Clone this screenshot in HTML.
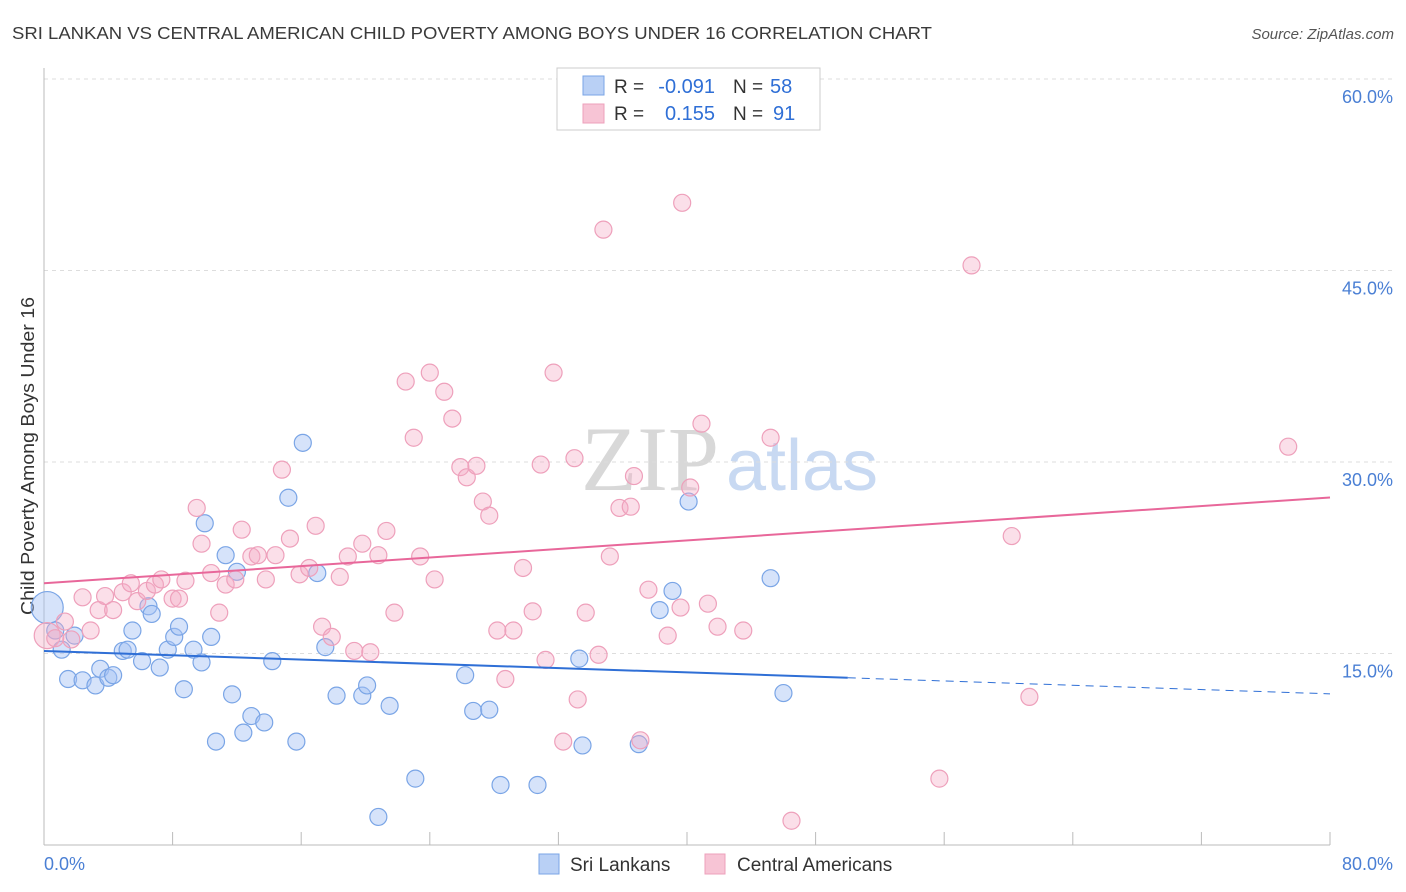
<!DOCTYPE html>
<html><head><meta charset="utf-8"><style>
body{margin:0;background:#fff;font-family:"Liberation Sans",sans-serif;}
#wrap{position:relative;width:1406px;height:892px;overflow:hidden;}
</style></head><body>
<div id="wrap">
<svg id="svg" width="1406" height="892" xmlns="http://www.w3.org/2000/svg">
<text x="12" y="39" font-size="17.5" fill="#3a3a3a" textLength="920" lengthAdjust="spacingAndGlyphs">SRI LANKAN VS CENTRAL AMERICAN CHILD POVERTY AMONG BOYS UNDER 16 CORRELATION CHART</text>
<text x="1394" y="39" font-size="15" fill="#555" font-style="italic" text-anchor="end">Source: ZipAtlas.com</text>
<text x="650" y="490" font-size="92" fill="#d8d8d8" font-family="Liberation Serif" text-anchor="middle">ZIP</text>
<text x="802" y="490" font-size="72" fill="#c8d9f2" text-anchor="middle">atlas</text>
<text transform="translate(34,456) rotate(-90)" font-size="18" fill="#333" text-anchor="middle" textLength="318" lengthAdjust="spacingAndGlyphs">Child Poverty Among Boys Under 16</text>
<g id="grid"></g><g id="pts"></g><g id="lines"></g>
<g>
<rect x="557" y="68" width="263" height="62" fill="#fff" stroke="#ccc"/>
<rect x="583" y="76" width="21" height="19" fill="#b9d0f5" stroke="#7aa5e6"/>
<rect x="583" y="104" width="21" height="19" fill="#f7c4d5" stroke="#eea0bb"/>
<text x="614" y="93" font-size="19" fill="#333">R =</text>
<text x="715" y="93" font-size="20" fill="#2f6fd6" text-anchor="end">-0.091</text>
<text x="733" y="93" font-size="19" fill="#333">N =</text>
<text x="770" y="93" font-size="20" fill="#2f6fd6">58</text>
<text x="614" y="120" font-size="19" fill="#333">R =</text>
<text x="715" y="120" font-size="20" fill="#2f6fd6" text-anchor="end">0.155</text>
<text x="733" y="120" font-size="19" fill="#333">N =</text>
<text x="773" y="120" font-size="20" fill="#2f6fd6">91</text>
</g>
<g>
<rect x="539" y="854" width="20" height="20" fill="#b9d0f5" stroke="#7aa5e6"/>
<text x="570" y="871" font-size="19" fill="#333">Sri Lankans</text>
<rect x="705" y="854" width="20" height="20" fill="#f7c4d5" stroke="#eea0bb"/>
<text x="737" y="871" font-size="19" fill="#333">Central Americans</text>
</g>
</svg>
</div>
<script>
const yTicks=[15,30,45,60];
const yTickLabels=["15.0%","30.0%","45.0%","60.0%"];
const xTicks=[0,8,16,24,32,40,48,56,64,72,80];
const blueX=[0.2,0.7,1.1,1.9,1.5,2.4,3.2,3.5,4.0,4.3,4.9,5.2,5.5,6.1,6.5,6.7,7.2,7.7,8.1,8.4,8.7,9.3,9.8,10.0,10.4,10.7,11.3,11.7,12.0,12.4,12.9,13.7,14.2,15.2,15.7,16.1,17.0,17.5,18.2,19.8,20.1,20.8,21.5,23.1,26.2,26.7,27.7,28.4,30.7,33.3,33.5,37.0,38.3,39.1,40.1,45.2,46.0];
const blueY=[18.6,16.8,15.3,16.4,13.0,12.9,12.5,13.8,13.1,13.3,15.2,15.3,16.8,14.4,18.7,18.1,13.9,15.3,16.3,17.1,12.2,15.3,14.3,25.2,16.3,8.1,22.7,11.8,21.4,8.8,10.1,9.6,14.4,27.2,8.1,31.5,21.3,15.5,11.7,11.7,12.5,2.2,10.9,5.2,13.3,10.5,10.6,4.7,4.7,14.6,7.8,7.9,18.4,19.9,26.9,20.9,11.9];
const pinkX=[0.2,0.7,1.3,1.7,2.4,2.9,3.4,3.8,4.3,4.9,5.4,5.8,6.4,6.9,7.3,8.0,8.4,8.8,9.5,9.8,10.4,10.9,11.3,11.9,12.3,12.9,13.3,13.8,14.4,14.8,15.3,15.9,16.5,16.9,17.3,17.9,18.4,18.9,19.3,19.8,20.3,20.8,21.3,21.8,22.5,23.0,23.4,24.0,24.3,24.9,25.4,25.9,26.3,26.9,27.3,27.7,28.2,28.7,29.2,29.8,30.4,30.9,31.2,31.7,32.3,33.0,33.2,33.7,34.5,34.8,35.2,35.8,36.5,36.7,37.1,37.6,38.8,39.6,39.7,40.2,40.9,41.3,41.9,43.5,45.2,46.5,55.7,57.7,60.2,61.3,77.4];
const pinkY=[16.4,16.2,17.5,16.1,19.4,16.8,18.4,19.5,18.4,19.8,20.5,19.1,19.9,20.4,20.8,19.3,19.3,20.7,26.4,23.6,21.3,18.2,20.4,20.8,24.7,22.6,22.7,20.8,22.7,29.4,24.0,21.2,21.7,25.0,17.1,16.3,21.0,22.6,15.2,23.6,15.1,22.7,24.6,18.2,36.3,31.9,22.6,37.0,20.8,35.5,33.4,29.6,28.8,29.7,26.9,25.8,16.8,13.0,16.8,21.7,18.3,29.8,14.5,37.0,8.1,30.3,11.4,18.2,14.9,48.2,22.6,26.4,26.5,28.9,8.2,20.0,16.4,18.6,50.3,28.0,33.0,18.9,17.1,16.8,31.9,1.9,5.2,45.4,24.2,11.6,31.2];
const blueFit=[15.2,-0.042];
const pinkFit=[20.5,0.084];
const NS="http://www.w3.org/2000/svg";
const X=v=>44+v/80*1286;
const Y=v=>845-v/15*191.5;
function mk(tag,attrs,parent){const e=document.createElementNS(NS,tag);for(const k in attrs)e.setAttribute(k,attrs[k]);parent.appendChild(e);return e;}
const grid=document.getElementById('grid'),pts=document.getElementById('pts'),lines=document.getElementById('lines');
yTicks.forEach((t,i)=>{
 const l=mk('line',{x1:44,x2:1393,y1:Y(t),y2:Y(t),stroke:'#ddd','stroke-dasharray':'4,4'},grid);
 
 
 const tx=mk('text',{x:1393,y:Y(t)+24,'font-size':18,fill:'#4a7fd4','text-anchor':'end'},grid);
 tx.textContent=yTickLabels[i];
 
 
});
const ax=mk('line',{x1:44,x2:44,y1:68,y2:845,stroke:'#bbb'},grid);


const bx=mk('line',{x1:44,x2:1330,y1:845,y2:845,stroke:'#bbb'},grid);


xTicks.forEach(t=>{
 const l=mk('line',{x1:X(t),x2:X(t),y1:832,y2:845,stroke:'#bbb'},grid);
 
 
});
const x0=mk('text',{x:44,y:870,'font-size':18,fill:'#4a7fd4'},grid);x0.textContent='0.0%';


const x1=mk('text',{x:1393,y:870,'font-size':18,fill:'#4a7fd4','text-anchor':'end'},grid);x1.textContent='80.0%';


function dots(xs,ys,fill,stroke,name,bigR){
 xs.forEach((v,i)=>{
  const c=mk('circle',{cx:X(v),cy:Y(ys[i]),r:i===0?bigR:8.5,fill:fill,stroke:stroke,'stroke-width':1.2},pts);
  
  
 });
}
dots(blueX,blueY,'rgba(164,194,244,0.45)','#7aa5e6','sri-lankan-point',16);
dots(pinkX,pinkY,'rgba(244,170,196,0.38)','#eea0bb','central-american-point',13);
const bl=mk('line',{x1:X(0),y1:Y(blueFit[0]),x2:X(50),y2:Y(blueFit[0]+blueFit[1]*50),stroke:'#2f6fd6','stroke-width':2},lines);


const bd=mk('line',{x1:X(50),y1:Y(blueFit[0]+blueFit[1]*50),x2:X(80),y2:Y(blueFit[0]+blueFit[1]*80),stroke:'#2f6fd6','stroke-width':1,'stroke-dasharray':'8,6'},lines);


const pl=mk('line',{x1:X(0),y1:Y(pinkFit[0]),x2:X(80),y2:Y(pinkFit[0]+pinkFit[1]*80),stroke:'#e8679a','stroke-width':2},lines);


</script>
</body></html>
